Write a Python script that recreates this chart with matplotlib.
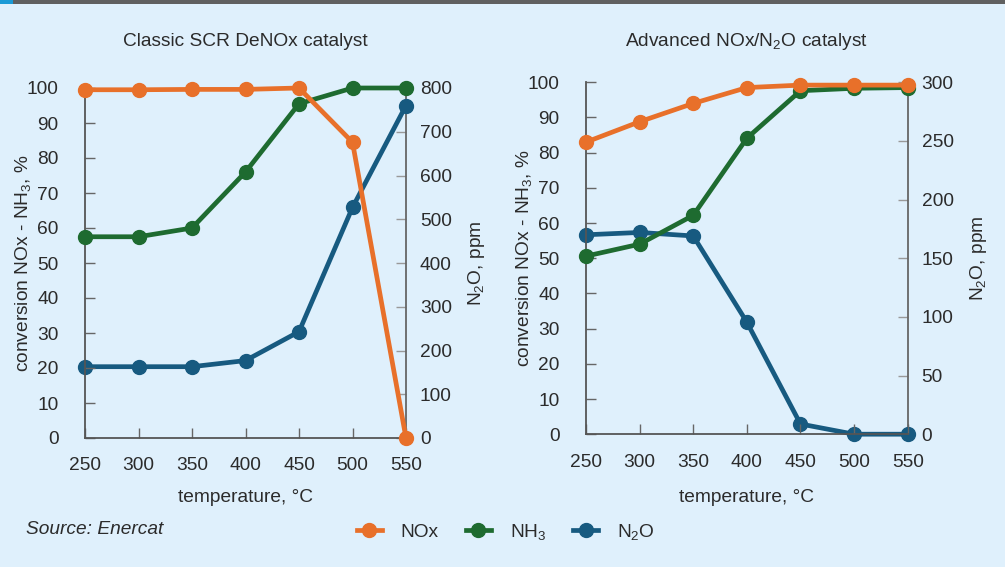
import matplotlib
matplotlib.use("Agg")
import matplotlib.pyplot as plt
from matplotlib.lines import Line2D
from matplotlib.patches import Rectangle

plt.rcParams['font.family'] = ['Liberation Sans', 'DejaVu Sans']
plt.rcParams['mathtext.fontset'] = 'custom'
plt.rcParams['mathtext.rm'] = 'Liberation Sans'
plt.rcParams['mathtext.it'] = 'Liberation Sans:italic'

# ---- data ----
temps = [250, 300, 350, 400, 450, 500, 550]

classic_nox = [99.5, 99.5, 99.6, 99.6, 100, 84.5, 0]
classic_nh3 = [57.5, 57.5, 60, 76, 95.5, 100, 100]
classic_n2o = [163, 163, 163, 177, 243, 527, 760]

adv_nox = [83, 88.8, 94, 98.5, 99.2, 99.2, 99.2]
adv_nh3 = [50.6, 54, 62.2, 84.1, 97.6, 98.3, 98.5]
adv_n2o = [170, 172, 169, 95.5, 8.7, 0, 0]

titles = ["Classic SCR DeNOx catalyst", r"Advanced NOx/N$_2$O catalyst"]
pct_ticks = [0, 10, 20, 30, 40, 50, 60, 70, 80, 90, 100]
classic_ppm_ticks = [0, 100, 200, 300, 400, 500, 600, 700, 800]
adv_ppm_ticks = [0, 50, 100, 150, 200, 250, 300]

C_NOX = "#E8702A"
C_NH3 = "#1E6B30"
C_N2O = "#175A80"
BG = "#DFF0FC"
TXT = "#2b2b2b"
SPINE = "#555555"

W, H = 1005, 567
fig = plt.figure(figsize=(W / 100, H / 100), dpi=100)
fig.patch.set_facecolor(BG)

# top bar
fig.add_artist(Rectangle((0, 1 - 4 / H), 1, 4 / H, transform=fig.transFigure,
                         facecolor="#606060", edgecolor="none"))
fig.add_artist(Rectangle((0, 1 - 4 / H), 13 / W, 4 / H, transform=fig.transFigure,
                         facecolor="#1a9ad6", edgecolor="none"))


def px_axes(x0, x1, ytop, ybot):
    return fig.add_axes([x0 / W, 1 - ybot / H, (x1 - x0) / W, (ybot - ytop) / H])


FS = 13.8
LW = 3.4
MS = 10


def setup(ax, ax2, ppm_max, ppm_ticks, title):
    ax.set_facecolor("none")
    ax.set_xlim(250, 550)
    ax.set_ylim(0, 100)
    ax.set_xticks(temps)
    ax.set_yticks(pct_ticks)
    ax2.set_ylim(0, ppm_max)
    ax2.set_yticks(ppm_ticks)
    for s in ["top", "right"]:
        ax.spines[s].set_visible(False)
    for s in ["top", "left", "bottom"]:
        ax2.spines[s].set_visible(False)
    for s in ["left", "bottom"]:
        ax.spines[s].set_color(SPINE)
        ax.spines[s].set_linewidth(1.3)
    ax2.spines["right"].set_color("#666666")
    ax2.spines["right"].set_linewidth(1.3)
    ax.tick_params(axis="y", direction="in", length=7, width=1, color="#666666",
                   labelsize=FS, labelcolor=TXT, pad=19)
    ax.tick_params(axis="x", direction="in", length=7, width=1, color="#666666",
                   labelsize=FS, labelcolor=TXT, pad=14)
    ax2.tick_params(axis="y", direction="in", length=7, width=1, color="#999999",
                    labelsize=FS, labelcolor=TXT, pad=10)
    ax.set_ylabel(r"conversion NOx - NH$_3$, %", fontsize=FS, color=TXT)
    ax.yaxis.set_label_coords(-0.163, 0.5)
    ax2.set_ylabel(r"N$_2$O, ppm", fontsize=FS, color=TXT)
    ax2.yaxis.set_label_coords(1.188, 0.5)
    bb = ax.get_position()
    xc = (bb.x0 + bb.x1) / 2
    fig.text(xc, 1 - 497 / H, "temperature, °C", fontsize=FS, color=TXT,
             ha="center", va="center")
    fig.text(xc, 1 - 42 / H, title, fontsize=FS, color=TXT,
             ha="center", va="center")


# left panel
axL = px_axes(85, 406, 88, 438)
axL2 = axL.twinx()
setup(axL, axL2, 800, classic_ppm_ticks, titles[0])
axL2.plot(temps, classic_n2o, color=C_N2O, lw=LW, marker="o", ms=MS, clip_on=False, zorder=3)
axL.plot(temps, classic_nh3, color=C_NH3, lw=LW, marker="o", ms=MS, clip_on=False, zorder=4)
axL.plot(temps, classic_nox, color=C_NOX, lw=LW, marker="o", ms=MS, clip_on=False, zorder=5)
axL.set_zorder(axL2.get_zorder() + 1)

# right panel
axR = px_axes(586, 907.7, 82.3, 434.2)
axR2 = axR.twinx()
setup(axR, axR2, 300, adv_ppm_ticks, titles[1])
axR2.plot(temps, adv_n2o, color=C_N2O, lw=LW, marker="o", ms=MS, clip_on=False, zorder=3)
axR.plot(temps, adv_nh3, color=C_NH3, lw=LW, marker="o", ms=MS, clip_on=False, zorder=4)
axR.plot(temps, adv_nox, color=C_NOX, lw=LW, marker="o", ms=MS, clip_on=False, zorder=5)
axR.set_zorder(axR2.get_zorder() + 1)

# legend
handles = [
    Line2D([], [], color=C_NOX, lw=LW, marker="o", ms=MS),
    Line2D([], [], color=C_NH3, lw=LW, marker="o", ms=MS),
    Line2D([], [], color=C_N2O, lw=LW, marker="o", ms=MS),
]
labels = ["NOx", r"NH$_3$", r"N$_2$O"]
fig.legend(handles, labels, loc="center", bbox_to_anchor=(506 / W, 1 - 532 / H),
           ncol=3, frameon=False, fontsize=FS, handlelength=1.3, handletextpad=1.0,
           columnspacing=1.4, labelcolor=TXT)

fig.text(26 / W, 1 - 530 / H, "Source: Enercat", fontsize=FS, style="italic",
         color=TXT, ha="left", va="center")

fig.savefig("out.png", dpi=100, facecolor=BG)
